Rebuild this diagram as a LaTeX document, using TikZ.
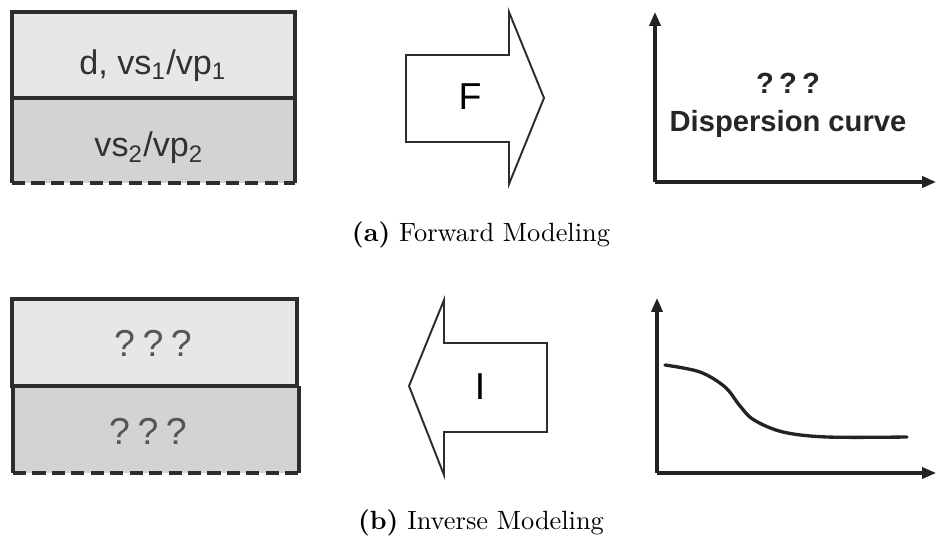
\documentclass[tikz,border=0pt]{standalone}
\usepackage{fontspec}
\newfontfamily\arialfont{Liberation Sans}
\usetikzlibrary{positioning,arrows.meta}

\definecolor{layerTop}{RGB}{231,231,231}
\definecolor{layerBot}{RGB}{211,211,211}
\definecolor{edgeDark}{RGB}{45,45,45}
\definecolor{txtDark}{RGB}{50,50,50}
\definecolor{txtGray}{RGB}{85,85,85}
\definecolor{axisDark}{RGB}{38,34,30}

\tikzset{
  layeredge/.style={draw=edgeDark, line width=1.1pt},
  layertxt/.style={font=\arialfont\fontsize{12.3}{15}\selectfont, text=txtDark},
  qmarks/.style={font=\arialfont\fontsize{13.5}{15}\selectfont, text=txtGray},
  bigarrow/.style={draw=edgeDark, line width=0.7pt, fill=white, line join=miter},
  oplabel/.style={font=\arialfont\fontsize{13.5}{15}\selectfont},
  axis/.style={draw=axisDark, line width=1.1pt, -{Triangle[length=5pt,width=4pt]}},
  curvetxt/.style={font=\arialfont\bfseries\fontsize{10.5}{12}\selectfont, text=black!85},
  subcap/.style={font=\fontsize{9.5}{12}\selectfont}
}

\begin{document}
\begin{tikzpicture}[x=0.36pt,y=-0.36pt]
  \useasboundingbox (0,0) rectangle (936,542);

  % ---------- (a) forward modeling ----------
  % two-layer model
  \fill[layerTop] (12,12) rectangle (295,98);
  \fill[layerBot] (12,98) rectangle (295,183);
  \draw[layeredge] (12,98) -- (12,12) -- (295,12) -- (295,98) -- cycle;
  \draw[layeredge] (12,98) -- (12,183);
  \draw[layeredge] (295,98) -- (295,183);
  \draw[draw=edgeDark, line width=1.5pt, dash pattern=on 4.7pt off 2.3pt] (12,183) -- (295,183);
  \node[layertxt] (modelA1) at (153,66) {d, vs\textsubscript{1}/vp\textsubscript{1}};
  \node[layertxt] (modelA2) at (149,148) {vs\textsubscript{2}/vp\textsubscript{2}};

  % forward operator arrow
  \draw[bigarrow] (406,55) -- (509,55) -- (509,12) -- (544,98)
    -- (509,184) -- (509,142) -- (406,142) -- cycle;
  \node[oplabel] (fwd) at (470,97) {F};

  % empty axes
  \coordinate (oA) at (655,182);
  \coordinate (yA) at (655,12);
  \coordinate (xA) at (936,182);
  \draw[axis] (oA) -- (yA);
  \draw[axis] (oA) -- (xA);
  \node[curvetxt] (unkA) at (788,83) {?\hspace{0.18em}?\hspace{0.18em}?};
  \node[curvetxt, below=-1pt of unkA] (dispA) {Dispersion curve};

  \node[subcap] (capA) at (481,235) {\textbf{(a)} Forward Modeling};

  % ---------- (b) inverse modeling ----------
  % unknown two-layer model
  \fill[layerTop] (12,299) rectangle (297,386);
  \fill[layerBot] (13,386) rectangle (299,473);
  \draw[layeredge] (12,386) -- (12,299) -- (297,299) -- (297,386) -- cycle;
  \draw[layeredge] (13,386) -- (299,386);
  \draw[layeredge] (13,386) -- (13,473);
  \draw[layeredge] (299,386) -- (299,473);
  \draw[draw=edgeDark, line width=1.5pt, dash pattern=on 4.7pt off 2.3pt] (13,473) -- (299,473);
  \node[qmarks] (modelB1) at (153,343) {?\hspace{0.2em}?\hspace{0.2em}?};
  \node[qmarks] (modelB2) at (148,431) {?\hspace{0.2em}?\hspace{0.2em}?};

  % inverse operator arrow
  \draw[bigarrow] (547,343) -- (444,343) -- (444,300) -- (409,386)
    -- (444,475) -- (444,432) -- (547,432) -- cycle;
  \node[oplabel] (inv) at (480,387) {I};

  % measured dispersion curve
  \coordinate (oB) at (657,473);
  \coordinate (yB) at (657,298);
  \coordinate (xB) at (936,473);
  \draw[axis] (oB) -- (yB);
  \draw[axis] (oB) -- (xB);
  \draw[draw=axisDark, line width=1.2pt, line cap=round] plot[smooth, tension=0.55]
    coordinates {(665,365) (700,372) (725,387) (740,406) (754,420) (783,432) (827,437) (907,437)};

  \node[subcap] (capB) at (481,523) {\textbf{(b)} Inverse Modeling};
\end{tikzpicture}
\end{document}
